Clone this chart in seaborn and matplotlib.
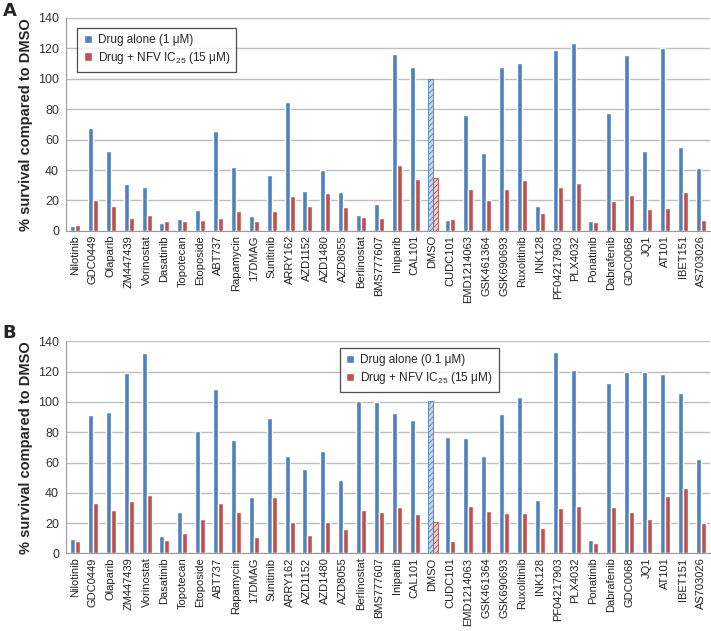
import matplotlib
matplotlib.use("Agg")
import matplotlib.pyplot as plt
from matplotlib.patches import Patch
import seaborn as sns
import pandas as pd
import numpy as np

# データ
drugs = ["Nilotinib", "GDC0449", "Olaparib", "ZM447439", "Vorinostat", "Dasatinib",
         "Topotecan", "Etoposide", "ABT737", "Rapamycin", "17DMAG", "Sunitinib",
         "ARRY162", "AZD1152", "AZD1480", "AZD8055", "Berlinostat", "BMS777607",
         "Iniparib", "CAL101", "DMSO", "CUDC101", "EMD1214063", "GSK461364",
         "GSK690693", "Ruxolitinib", "INK128", "PF04217903", "PLX4032", "Ponatinib",
         "Dabrafenib", "GDC0068", "JQ1", "AT101", "IBET151", "AS703026"]

# A: 1 uM
a_alone = [3.5, 67.3, 52.5, 30.8, 29, 5, 7.9, 14, 65.3, 42.2, 9.5, 37,
           84.8, 26, 40, 25.5, 10.3, 17.8, 116.3, 107.7, 100, 7.3, 76, 51,
           107.3, 110, 16.7, 119, 123.3, 6.4, 77.1, 115.6, 52.7, 119.8, 55.2, 41.3]
a_nfv = [4.2, 20, 16.7, 8.4, 10.5, 6.8, 6.4, 7.5, 8.4, 13, 6.6, 13.2,
         23, 16.3, 24.6, 15.6, 9, 8.8, 43.3, 34.3, 34.5, 7.7, 27.5, 20,
         27.3, 33.2, 11.9, 29, 31.6, 6.2, 19.6, 23.3, 14.7, 15.2, 25.3, 7.3]

# B: 0.1 uM
b_alone = [9.7, 91.3, 93.5, 119, 132, 11.2, 27.3, 81, 108.3, 74.8, 37, 89.6,
           64, 55.5, 67.4, 48.4, 100.8, 99.7, 92.9, 88, 100.6, 76.8, 76.2, 64,
           91.8, 103.5, 35.2, 133, 121.3, 8.6, 112.5, 120, 120, 118.4, 105.7, 62.3]
b_nfv = [7.9, 33, 28.8, 34.6, 38.3, 8.6, 13.2, 22.9, 33.5, 27, 10.8, 37,
         20.7, 12.3, 20.9, 16, 28.8, 27.3, 30.6, 26.2, 20.7, 8.4, 31, 28.2,
         26.4, 26.4, 17, 29.7, 31.5, 6.8, 30.4, 27.5, 22.7, 37.9, 43.4, 19.8]

label_alone_a = "Drug alone (1 μM)"
label_alone_b = "Drug alone (0.1 μM)"
label_nfv = "Drug + NFV IC$_{25}$ (15 μM)"

BLUE = "#4F81BD"
RED = "#C0504D"

sns.set_style("white")
plt.rcParams['font.family'] = ['Liberation Sans', 'DejaVu Sans']
plt.rcParams['hatch.linewidth'] = 0.6
plt.rcParams['mathtext.fontset'] = 'custom'
plt.rcParams['mathtext.rm'] = 'Liberation Sans'


def make_df(alone, nfv, alone_label):
    n = len(drugs)
    return pd.DataFrame({
        "drug": drugs * 2,
        "survival": alone + nfv,
        "treatment": [alone_label] * n + [label_nfv] * n,
    })


def draw_panel(ax, df, alone_label, anchor):
    sns.barplot(data=df, x="drug", y="survival", hue="treatment", order=drugs,
                hue_order=[alone_label, label_nfv], palette=[BLUE, RED],
                width=0.56, gap=0, saturation=1, errorbar=None, ax=ax,
                legend=False)

    # DMSO はハッチング
    i = drugs.index("DMSO")
    for cont, face, edge in zip(ax.containers, ["#C9D7EB", "#EFCDCC"], [BLUE, RED]):
        bar = cont[i]
        bar.set_facecolor(face)
        bar.set_edgecolor(edge)
        bar.set_hatch("//////")
        bar.set_linewidth(0.6)

    ax.set_ylim(0, 140)
    ax.set_yticks(range(0, 141, 20))
    ax.set_xlim(-0.5, len(drugs) - 0.5)
    ax.yaxis.grid(True, color="#BEBEBE", linewidth=1)
    ax.set_axisbelow(True)

    ax.set_xticks(range(len(drugs)))
    ax.set_xticklabels(drugs, rotation=90, fontsize=8, color="#222222")
    ax.set_xticks(np.arange(-0.5, len(drugs), 1), minor=True)
    ax.tick_params(axis="x", which="major", length=0, pad=3)
    ax.tick_params(axis="x", which="minor", length=4, color="#999999", width=0.8)
    ax.tick_params(axis="y", length=3, color="#999999", labelsize=9,
                   labelcolor="#333333", pad=2)

    for s in ["top", "right"]:
        ax.spines[s].set_visible(False)
    for s in ["left", "bottom"]:
        ax.spines[s].set_color("#999999")
        ax.spines[s].set_linewidth(0.8)

    ax.set_xlabel("")
    ax.set_ylabel("% survival compared to DMSO", fontsize=10.5, fontweight="bold",
                  labelpad=4)

    handles = [Patch(facecolor=BLUE), Patch(facecolor=RED)]
    leg = ax.legend(handles, [alone_label, label_nfv], loc="upper left",
                    bbox_to_anchor=anchor, frameon=True, fancybox=False,
                    edgecolor="#222222", fontsize=8.5, handlelength=0.7,
                    handleheight=0.7, handletextpad=0.5, borderpad=0.55,
                    labelspacing=0.3, borderaxespad=0)
    leg.get_frame().set_linewidth(0.9)


fig = plt.figure(figsize=(7.11, 6.31), dpi=100)
ax_a = fig.add_axes([0.093, 0.634, 0.905, 0.338])
ax_b = fig.add_axes([0.093, 0.123, 0.905, 0.336])

draw_panel(ax_a, make_df(a_alone, a_nfv, label_alone_a), label_alone_a,
           (0.017, 0.953))
draw_panel(ax_b, make_df(b_alone, b_nfv, label_alone_b), label_alone_b,
           (0.425, 0.97))

fig.text(0.004, 0.997, "A", fontsize=13, fontweight="bold", ha="left", va="top",
         family="DejaVu Sans")
fig.text(0.004, 0.487, "B", fontsize=13, fontweight="bold", ha="left", va="top",
         family="DejaVu Sans")

fig.savefig("out.png", dpi=100)
